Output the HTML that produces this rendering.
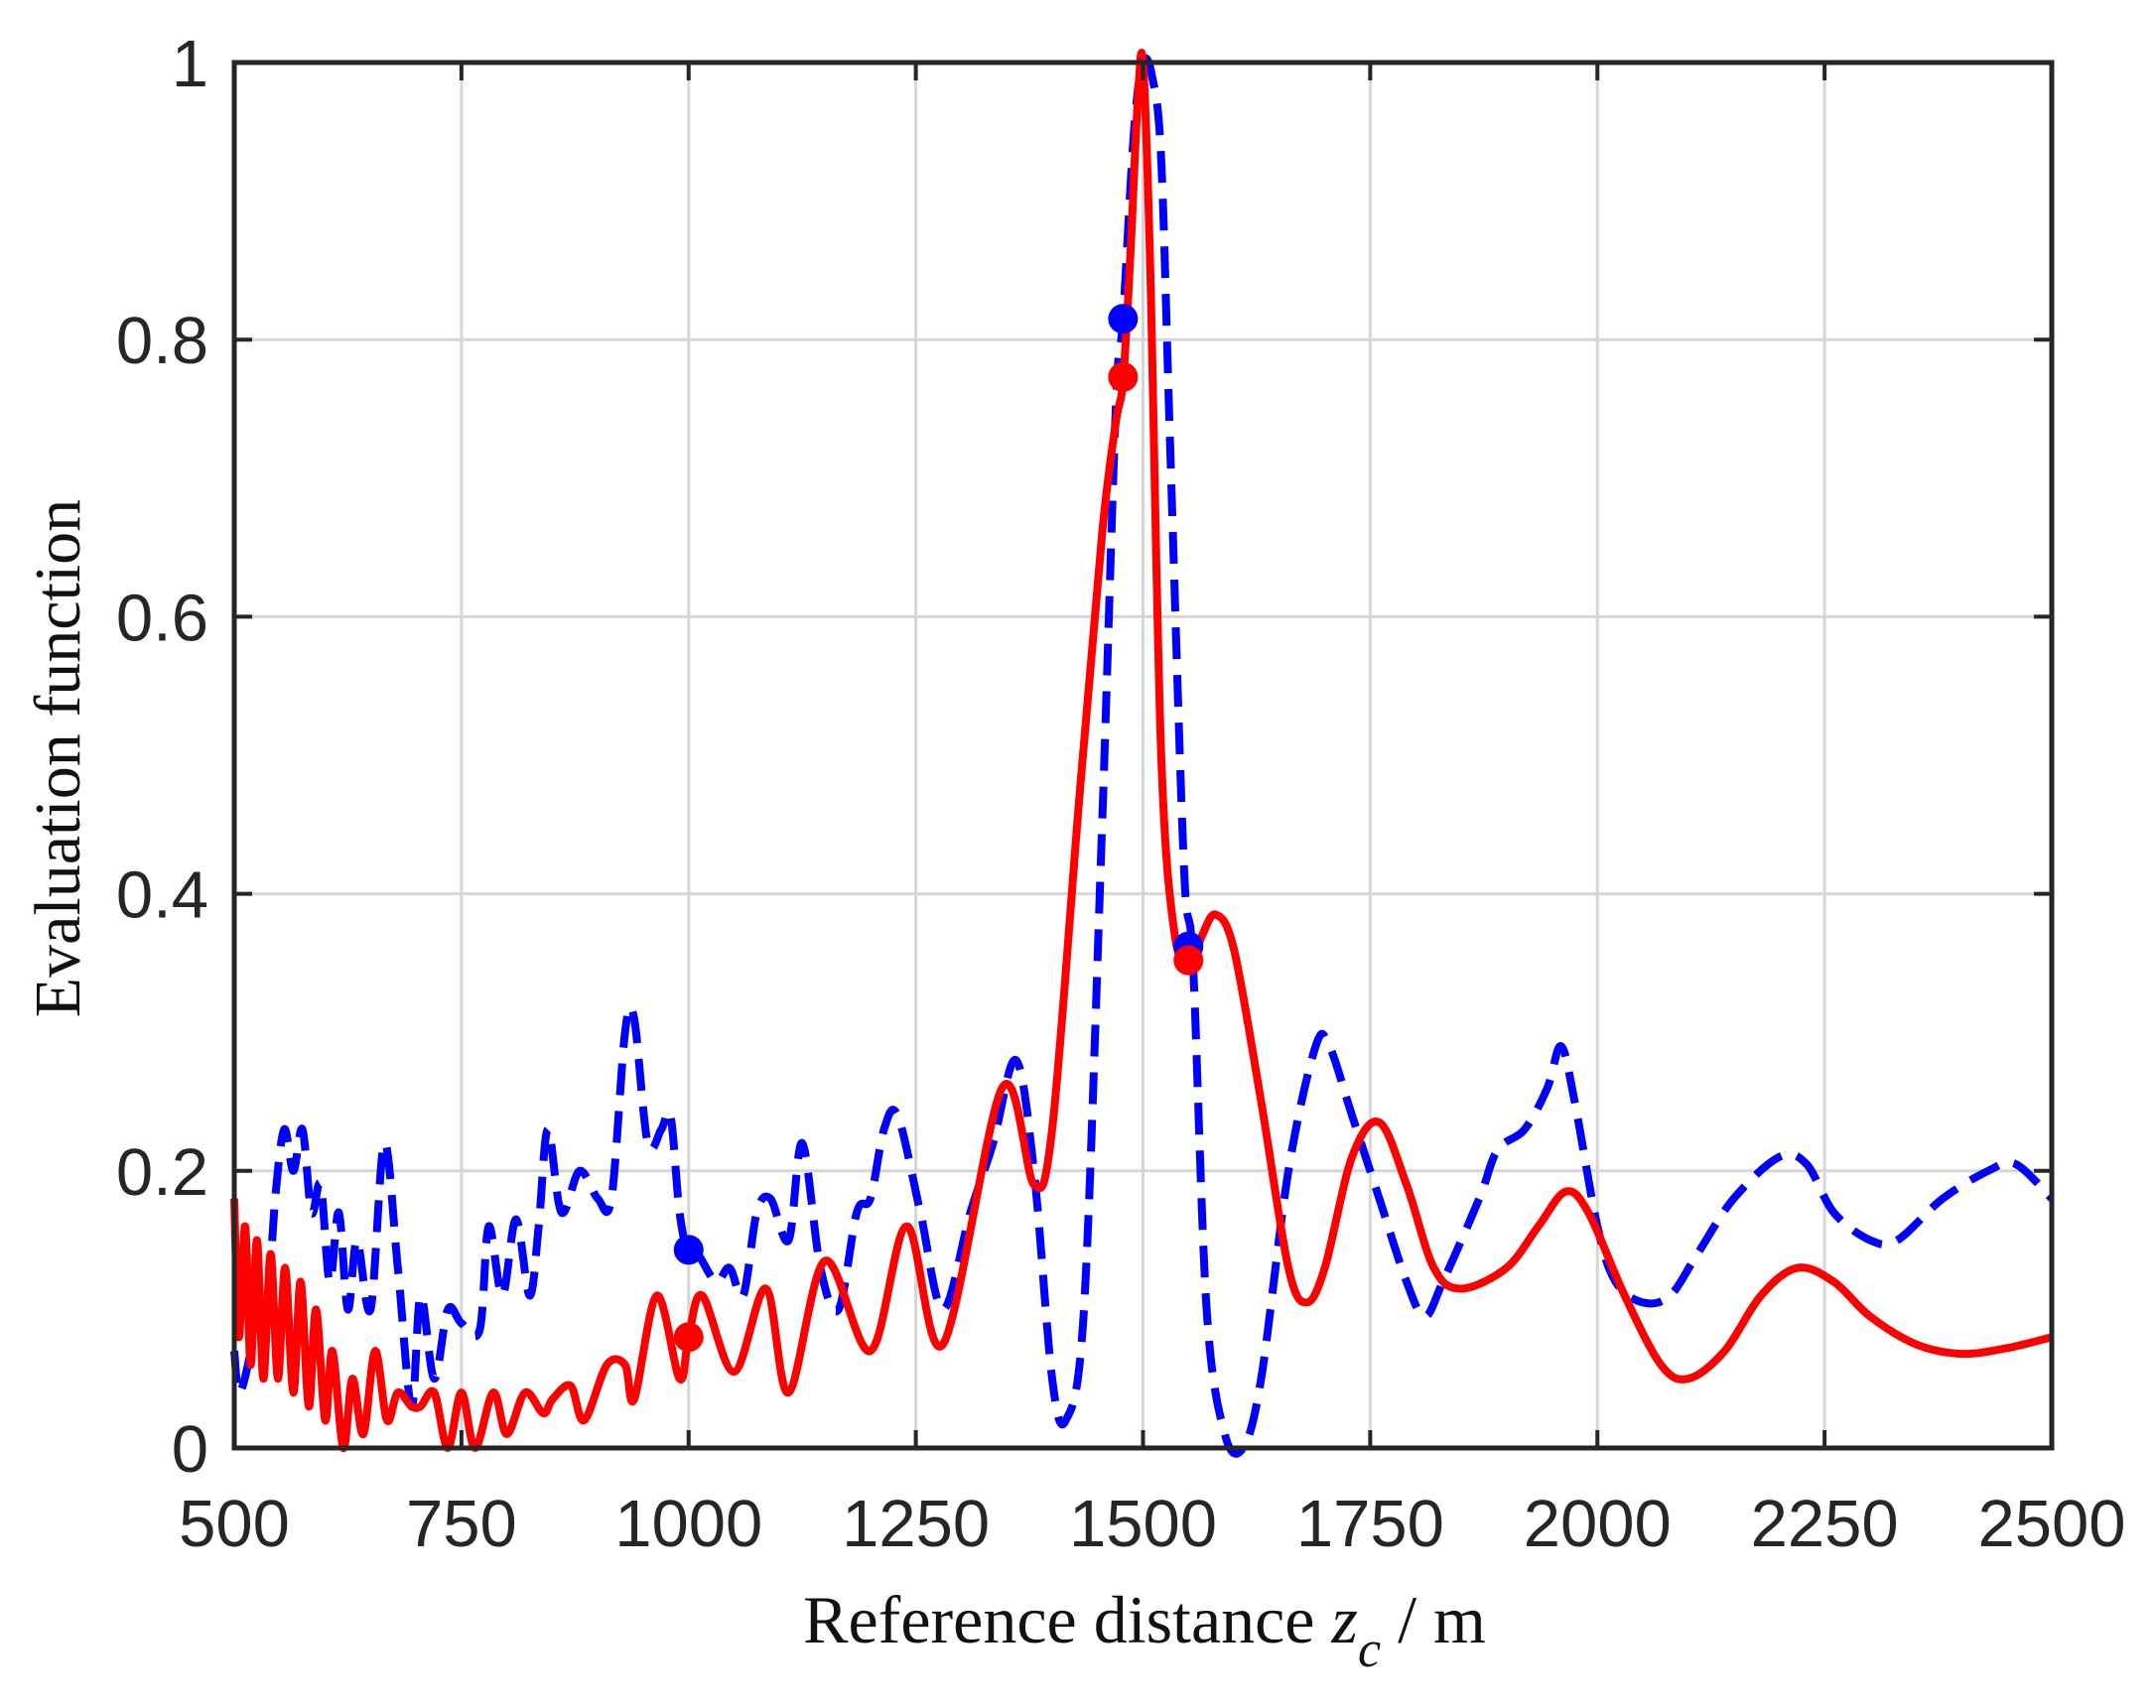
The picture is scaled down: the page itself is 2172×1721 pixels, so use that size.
<!DOCTYPE html>
<html><head><meta charset="utf-8"><style>
html,body{margin:0;padding:0;background:#fff;}
svg{display:block;}
</style></head><body>
<svg id="s" width="2172" height="1721" viewBox="0 0 2172 1721" xmlns="http://www.w3.org/2000/svg">
<rect width="2172" height="1721" fill="#fff"/>
<g id="grid" stroke="#d6d6d6" stroke-width="3"></g>
<g id="curves" fill="none" stroke-linejoin="round"></g>
<g id="axes"></g>
<g font-family="'Liberation Sans',Arial,sans-serif" font-size="67" fill="#262626" id="ticks"></g>
<text x="1153" y="1655" font-family="'Liberation Serif',serif" font-size="68" fill="#111" text-anchor="middle">Reference distance <tspan font-style="italic">z</tspan><tspan font-style="italic" font-size="52" dy="24">c</tspan><tspan dy="-24"> /  m</tspan></text>
<text transform="translate(80,764) rotate(-90)" font-family="'Liberation Serif',serif" font-size="66" fill="#111" text-anchor="middle">Evaluation function</text>
</svg>
<script>
var X0=236,X1=2067,Y0=63,Y1=1459;
function px(z){return X0+(z-500)/2000*(X1-X0);}
function py(f){return Y1-f*(Y1-Y0);}
var NS="http://www.w3.org/2000/svg";
function el(p,t,a,txt){var e=document.createElementNS(NS,t);for(var k in a)e.setAttribute(k,a[k]);if(txt!==undefined)e.textContent=txt;document.getElementById(p).appendChild(e);return e;}
var xt=[500,750,1000,1250,1500,1750,2000,2250,2500],yt=[0,0.2,0.4,0.6,0.8,1];
xt.forEach(function(z){var x=px(z);if(z>500&&z<2500)el("grid","line",{x1:x,y1:Y0,x2:x,y2:Y1});
 el("axes","line",{x1:x,y1:Y1,x2:x,y2:Y1-18,stroke:"#262626","stroke-width":4});
 el("axes","line",{x1:x,y1:Y0,x2:x,y2:Y0+18,stroke:"#262626","stroke-width":4});
 el("ticks","text",{x:x,y:1558,"text-anchor":"middle"},String(z));});
yt.forEach(function(f){var y=py(f);if(f>0&&f<1)el("grid","line",{x1:X0,y1:y,x2:X1,y2:y});
 el("axes","line",{x1:X0,y1:y,x2:X0+18,y2:y,stroke:"#262626","stroke-width":4});
 el("axes","line",{x1:X1,y1:y,x2:X1-18,y2:y,stroke:"#262626","stroke-width":4});
 el("ticks","text",{x:210,y:y+24,"text-anchor":"end"},String(f));});
el("axes","rect",{x:X0,y:Y0,width:X1-X0,height:Y1-Y0,fill:"none",stroke:"#262626","stroke-width":5});
var red=[[500,.18],[505,.08],[512,.16],[518,.06],[525,.15],[532,.05],[540,.14],[548,.05],[556,.13],[565,.04],[573,.12],[582,.03],[590,.10],[600,.02],[608,.07],[620,0],[630,.05],[642,.01],[655,.07],[668,.02],[680,.04],[695,.03],[705,.03],[720,.04],[735,0],[750,.04],[765,0],[785,.04],[800,.01],[820,.04],[840,.025],[850,.035],[870,.045],[885,.02],[910,.06],[930,.06],[940,.035],[965,.11],[990,.05],[1000,.08],[1015,.11],[1050,.055],[1085,.115],[1110,.04],[1150,.135],[1200,.07],[1240,.16],[1280,.075],[1345,.26],[1380,.19],[1400,.23],[1430,.47],[1455,.66],[1470,.74],[1478,.77],[1486,.86],[1494,.97],[1500,1],[1508,.85],[1520,.5],[1535,.37],[1552,.35],[1565,.37],[1580,.385],[1600,.36],[1630,.25],[1660,.13],[1680,.105],[1700,.13],[1730,.21],[1760,.235],[1790,.19],[1820,.13],[1850,.115],[1900,.13],[1935,.16],[1965,.185],[1990,.17],[2030,.11],[2070,.06],[2100,.05],[2140,.07],[2180,.11],[2220,.13],[2260,.12],[2300,.095],[2350,.075],[2400,.068],[2450,.072],[2500,.08]];
var blue=[[500,.07],[505,.04],[515,.06],[525,.10],[535,.09],[545,.18],[555,.23],[565,.20],[575,.23],[585,.17],[595,.19],[605,.12],[615,.17],[625,.10],[635,.15],[650,.10],[665,.22],[680,.13],[695,.03],[705,.11],[720,.05],[735,.10],[750,.09],[770,.085],[780,.16],[795,.11],[810,.165],[825,.11],[835,.16],[845,.23],[860,.17],[880,.20],[900,.18],[915,.18],[930,.30],[940,.31],[955,.22],[970,.23],[980,.24],[990,.17],[1000,.14],[1010,.14],[1030,.12],[1045,.13],[1060,.11],[1075,.17],[1090,.18],[1110,.15],[1125,.22],[1145,.13],[1165,.10],[1185,.17],[1200,.18],[1215,.23],[1230,.24],[1255,.17],[1280,.10],[1310,.17],[1335,.22],[1360,.28],[1380,.20],[1400,.05],[1415,.02],[1435,.10],[1455,.45],[1470,.75],[1478,.815],[1490,.95],[1500,1],[1510,.99],[1520,.93],[1530,.72],[1545,.42],[1555,.35],[1570,.10],[1590,.01],[1610,0],[1630,.05],[1660,.20],[1690,.29],[1705,.29],[1730,.24],[1760,.18],[1790,.12],[1810,.095],[1830,.12],[1870,.18],[1890,.215],[1920,.23],[1945,.26],[1960,.29],[1975,.25],[2000,.16],[2020,.12],[2050,.105],[2080,.11],[2110,.14],[2150,.18],[2200,.21],[2230,.205],[2260,.17],[2300,.15],[2330,.15],[2380,.18],[2430,.20],[2460,.205],[2500,.18]];
function path(d){var p=d.map(function(a){return [px(a[0]),py(a[1])];});var s="M"+p[0][0]+","+p[0][1];
 for(var i=0;i<p.length-1;i++){var a=p[i-1]||p[i],b=p[i],c=p[i+1],e=p[i+2]||c;
 s+=" C"+(b[0]+(c[0]-a[0])/6)+","+(b[1]+(c[1]-a[1])/6)+" "+(c[0]-(e[0]-b[0])/6)+","+(c[1]-(e[1]-b[1])/6)+" "+c[0]+","+c[1];}return s;}
el("curves","path",{d:path(blue),stroke:"#0000ff","stroke-width":8,"stroke-dasharray":"32 16"});
el("curves","path",{d:path(red),stroke:"#ff0000","stroke-width":8});
[[1478,.815,"#0000ff"],[1550,.362,"#0000ff"],[1000,.143,"#0000ff"],[1478,.773,"#ff0000"],[1550,.352,"#ff0000"],[1000,.08,"#ff0000"]].forEach(function(m){
 el("curves","circle",{cx:px(m[0]),cy:py(m[1]),r:15,fill:m[2],stroke:"none"});});
</script>
</body></html>
